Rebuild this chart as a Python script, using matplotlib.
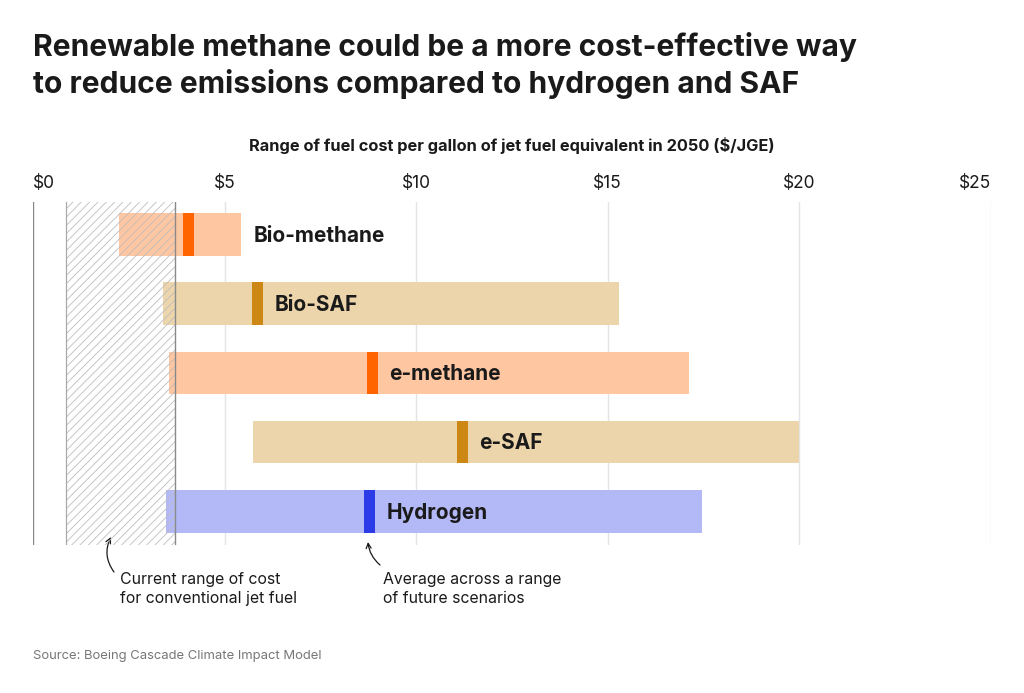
import matplotlib
matplotlib.use('Agg')
import matplotlib.pyplot as plt
from matplotlib.patches import Rectangle

plt.rcParams['font.family'] = ['Inter', 'DejaVu Sans']
plt.rcParams['hatch.linewidth'] = 0.6

# Data ($/JGE in 2050)
fuels = ['Bio-methane', 'Bio-SAF', 'e-methane', 'e-SAF', 'Hydrogen']
cost_low = [2.25, 3.40, 3.56, 5.75, 3.47]
cost_high = [5.43, 15.29, 17.12, 19.98, 17.47]
cost_avg = [4.05, 5.86, 8.86, 11.20, 8.79]
jet_fuel_range = [0.87, 3.71]
ticks = [0, 5, 10, 15, 20, 25]
tick_labels = ['$0', '$5', '$10', '$15', '$20', '$25']

fill_colors = ['#FFC6A2', '#EDD5AB', '#FFC6A2', '#EDD5AB', '#B3B9F7']
mark_colors = ['#FF6400', '#CC8714', '#FF6400', '#CC8714', '#2B3BE8']

W, H = 1024, 693
fig = plt.figure(figsize=(W / 100, H / 100), dpi=100)
fig.patch.set_facecolor('white')

# axes box in pixels: x 33..991, y 201.7..545
ax = fig.add_axes([33 / W, 1 - 545 / H, (991 - 33) / W, (545 - 201.7) / H])
ax.set_xlim(0, 25)
ax.set_ylim(4.487, -0.474)
ax.axis('off')

# gridlines
for t in ticks:
    col = '#888888' if t == 0 else '#e4e4e4'
    ax.axvline(t, color=col, lw=1.0, zorder=1)

bar_h = 0.614
mark_w = 0.28
for i, name in enumerate(fuels):
    lo, hi, avg = cost_low[i], cost_high[i], cost_avg[i]
    ax.barh(i, hi - lo, left=lo, height=bar_h, color=fill_colors[i], zorder=2)
    ax.barh(i, mark_w, left=avg - mark_w / 2, height=bar_h, color=mark_colors[i], zorder=3)
    # label after the marker, or after the bar when the bar ends close to the marker
    if hi - avg < 3:
        lx = hi + 0.33
    else:
        lx = avg + mark_w / 2 + 0.3
    ax.text(lx, i + 0.02, name, ha='left', va='center', fontsize=15, fontweight='bold',
            color='#1a1a1a', zorder=4)

# hatched band: current conventional jet fuel cost
y0, y1 = ax.get_ylim()
ax.add_patch(Rectangle((jet_fuel_range[0], y1), jet_fuel_range[1] - jet_fuel_range[0], y0 - y1,
                       facecolor='none', edgecolor='#bdbdbd', hatch='////', lw=0, zorder=3.5))
ax.axvline(jet_fuel_range[0], color='#aaaaaa', lw=0.9, zorder=3.6)
ax.axvline(jet_fuel_range[1], color='#8a8a8a', lw=1.0, zorder=3.6)

# tick labels on top (first left-aligned, last right-aligned)
for k, (t, lab) in enumerate(zip(ticks, tick_labels)):
    if k == 0:
        ha = 'left'
    elif k == len(ticks) - 1:
        ha = 'right'
    else:
        ha = 'center'
    ax.text(t, 0, lab, ha=ha, va='center', fontsize=12.5, color='#1a1a1a',
            transform=ax.get_xaxis_transform(), clip_on=False)
    ax.texts[-1].set_y(1 + (201.7 - 183) / (545 - 201.7))

# titles
fig.text(33 / W, 1 - 47 / H, 'Renewable methane could be a more cost-effective way',
         ha='left', va='center', fontsize=21.6, fontweight='bold', color='#1a1a1a')
fig.text(33 / W, 1 - 84 / H, 'to reduce emissions compared to hydrogen and SAF',
         ha='left', va='center', fontsize=21.6, fontweight='bold', color='#1a1a1a')
fig.text(512 / W, 1 - 146 / H, 'Range of fuel cost per gallon of jet fuel equivalent in 2050 ($/JGE)',
         ha='center', va='center', fontsize=11.8, fontweight='bold', color='#1a1a1a')

# annotations
fig.text(119.6 / W, 1 - 589 / H, 'Current range of cost\nfor conventional jet fuel',
         ha='left', va='center', fontsize=11.4, color='#1a1a1a', linespacing=1.3)
fig.text(383 / W, 1 - 589 / H, 'Average across a range\nof future scenarios',
         ha='left', va='center', fontsize=11.4, color='#1a1a1a', linespacing=1.3)
ax.annotate('', xy=(111, H - 537), xycoords='figure pixels',
            xytext=(114, H - 572), textcoords='figure pixels',
            arrowprops=dict(arrowstyle='->', lw=0.9, color='#1a1a1a',
                            connectionstyle='arc3,rad=-0.3', mutation_scale=9,
                            shrinkA=0, shrinkB=0),
            annotation_clip=False)
ax.annotate('', xy=(368, H - 542), xycoords='figure pixels',
            xytext=(380, H - 565), textcoords='figure pixels',
            arrowprops=dict(arrowstyle='->', lw=0.9, color='#1a1a1a',
                            connectionstyle='arc3,rad=-0.2', mutation_scale=9,
                            shrinkA=0, shrinkB=0),
            annotation_clip=False)

fig.text(33 / W, 1 - 656 / H, 'Source: Boeing Cascade Climate Impact Model',
         ha='left', va='center', fontsize=9.4, color='#777777')

fig.savefig('out.png', dpi=100)
